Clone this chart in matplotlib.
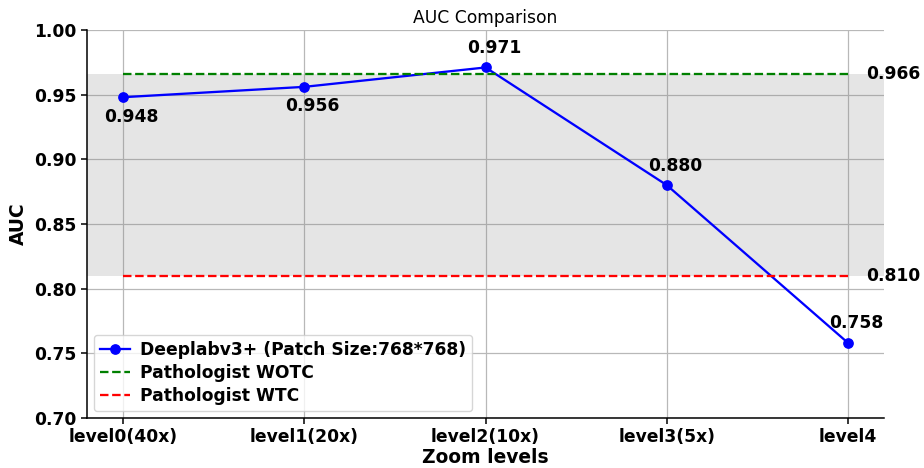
import matplotlib
matplotlib.use("Agg")
import matplotlib.pyplot as plt

levels = ["level0(40x)", "level1(20x)", "level2(10x)", "level3(5x)", "level4"]
auc = [0.948, 0.956, 0.971, 0.880, 0.758]
label_pos = ["below", "below", "above", "above", "above"]
wotc = 0.966
wtc = 0.810

plt.rcParams['font.family'] = ['DejaVu Sans']
fig = plt.figure(figsize=(9.24, 4.68), dpi=100)
ax = fig.add_axes([0.094, 0.107, 0.863, 0.829])

fs = 12.3
x = list(range(len(levels)))
ax.axhspan(wtc, wotc, color='gray', alpha=0.2, lw=0)
ax.plot(x, auc, color='blue', marker='o', lw=1.65, ms=6.7, label='Deeplabv3+ (Patch Size:768*768)')
ax.hlines(wotc, x[0], x[-1], colors='green', linestyles='--', lw=1.65, label='Pathologist WOTC')
ax.hlines(wtc, x[0], x[-1], colors='red', linestyles='--', lw=1.65, label='Pathologist WTC')

for xi, yi, p in zip(x, auc, label_pos):
    dy = -14 if p == "below" else 14
    ax.annotate(f"{yi:.3f}", (xi, yi), xytext=(6, dy), textcoords='offset points',
                ha='center', va='center', fontsize=fs, fontweight='bold')

ax.text(4.1, wotc, f"{wotc:.3f}", ha='left', va='center', fontsize=fs, fontweight='bold')
ax.text(4.1, wtc, f"{wtc:.3f}", ha='left', va='center', fontsize=fs, fontweight='bold')

ax.set_xticks(x)
ax.set_xticklabels(levels, fontsize=fs, fontweight='bold')
ax.set_ylim(0.70, 1.00)
ax.set_yticks([0.70, 0.75, 0.80, 0.85, 0.90, 0.95, 1.00])
ax.set_yticklabels([f"{v:.2f}" for v in ax.get_yticks()], fontsize=fs, fontweight='bold')
ax.set_xlim(-0.2, 4.2)
ax.tick_params(width=1.1, length=4)
ax.grid(True, color='#b8b8b8', lw=0.9)
ax.set_axisbelow(True)
for s in ['left', 'bottom']:
    ax.spines[s].set_linewidth(1.1)
ax.spines['top'].set_visible(False)
ax.spines['right'].set_visible(False)
ax.set_xlabel('Zoom levels', fontsize=13.4, fontweight='bold', labelpad=1)
ax.set_ylabel('AUC', fontsize=13.4, fontweight='bold')
ax.set_title('AUC Comparison', fontsize=fs, pad=5)
ax.legend(loc='lower left', prop={'size': fs, 'weight': 'bold'},
          handlelength=1.8, handletextpad=0.55, labelspacing=0.3,
          borderpad=0.35, borderaxespad=0.4)

fig.savefig('out.png', dpi=100)
